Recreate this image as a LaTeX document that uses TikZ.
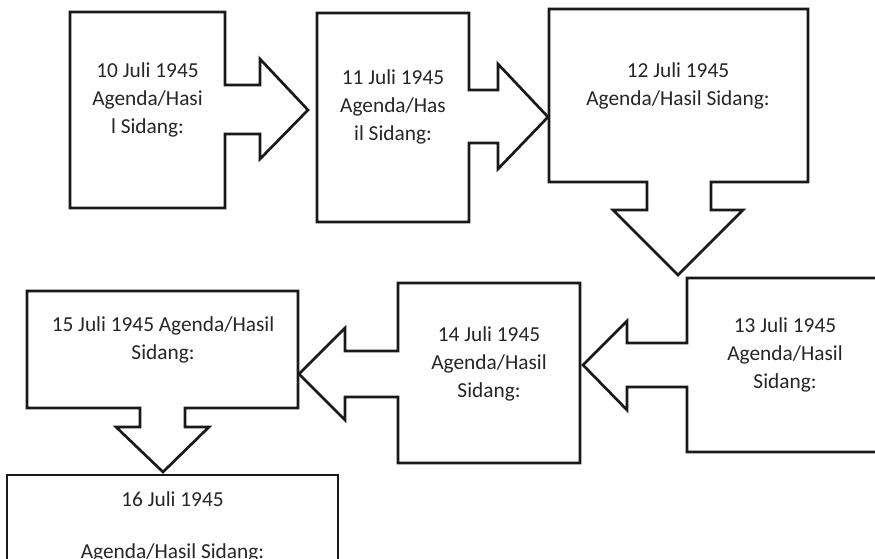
\documentclass[tikz,border=0pt]{standalone}
\usepackage{fontspec}
\setmainfont{Carlito}

\tikzset{every picture/.style={line width=0.75pt}}
\tikzset{callout/.style={draw=black!90, fill=white, line width=2pt, line join=miter},
         datetext/.style={align=center, inner sep=0.75pt, text=black!85, font=\fontsize{16}{21}\selectfont}}

\begin{document}
\begin{tikzpicture}[x=0.75pt,y=0.75pt,yscale=-1,xscale=1]
    %set diagram to 875 x 559
    \clip (0,0) rectangle (875,559);
    
    %Shape: Right Arrow Callout [id:10juli] 
    \draw [callout] (70,12) -- (225,12) -- (225,85) -- (260,85) -- (260,59) -- (308,110) -- (260,159) -- (260,134) -- (225,134) -- (225,208) -- (70,208) -- cycle ;
    %Shape: Right Arrow Callout [id:11juli] 
    \draw [callout] (317,13) -- (469,13) -- (469,90) -- (498,90) -- (498,64) -- (548,117) -- (498,169) -- (498,143) -- (469,143) -- (469,222) -- (317,222) -- cycle ;
    %Shape: Down Arrow Callout [id:12juli] 
    \draw [callout] (549,9) -- (808,9) -- (808,182) -- (711,182) -- (711,210) -- (743,210) -- (678,275) -- (613,210) -- (647,210) -- (647,182) -- (549,182) -- cycle ;
    %Shape: Left Arrow Callout [id:13juli] 
    \draw [callout] (884,278) -- (687,278) -- (687,343) -- (627,343) -- (627,321) -- (583,365) -- (627,410) -- (627,387) -- (687,387) -- (687,452) -- (884,452) -- cycle ;
    %Shape: Left Arrow Callout [id:14juli] 
    \draw [callout] (398,283) -- (580,283) -- (580,463) -- (398,463) -- (398,397) -- (345,397) -- (345,420) -- (299,374) -- (345,328) -- (345,351) -- (398,351) -- cycle ;
    %Shape: Down Arrow Callout [id:15juli] 
    \draw [callout] (27,291) -- (298,291) -- (298,408) -- (185,408) -- (185,427) -- (209,427) -- (163,472) -- (116,427) -- (140,427) -- (140,408) -- (27,408) -- cycle ;
    %Shape: Rectangle [id:16juli] 
    \draw [callout] (7,475) -- (338,475) -- (338,590) -- (7,590) -- cycle ;
    
    % Text Node
    \node (t10) at (147.5,100) [datetext] {10 Juli 1945\\Agenda/Hasi\\l Sidang:};
    % Text Node
    \node (t11) at (393,107) [datetext] {11 Juli 1945\\Agenda/Has\\il Sidang:};
    % Text Node
    \node (t12) at (678,86) [datetext] {12 Juli 1945\\Agenda/Hasil Sidang:};
    % Text Node
    \node (t13) at (785,355) [datetext] {13 Juli 1945\\Agenda/Hasil\\Sidang:};
    % Text Node
    \node (t14) at (489,364) [datetext] {14 Juli 1945\\Agenda/Hasil\\Sidang:};
    % Text Node
    \node (t15) at (163,340) [datetext] {15 Juli 1945 Agenda/Hasil\\Sidang:};
    % Text Node
    \node (t16) at (172.5,527) [datetext] {16 Juli 1945\\[18pt]Agenda/Hasil Sidang:};
    
\end{tikzpicture}
\end{document}
